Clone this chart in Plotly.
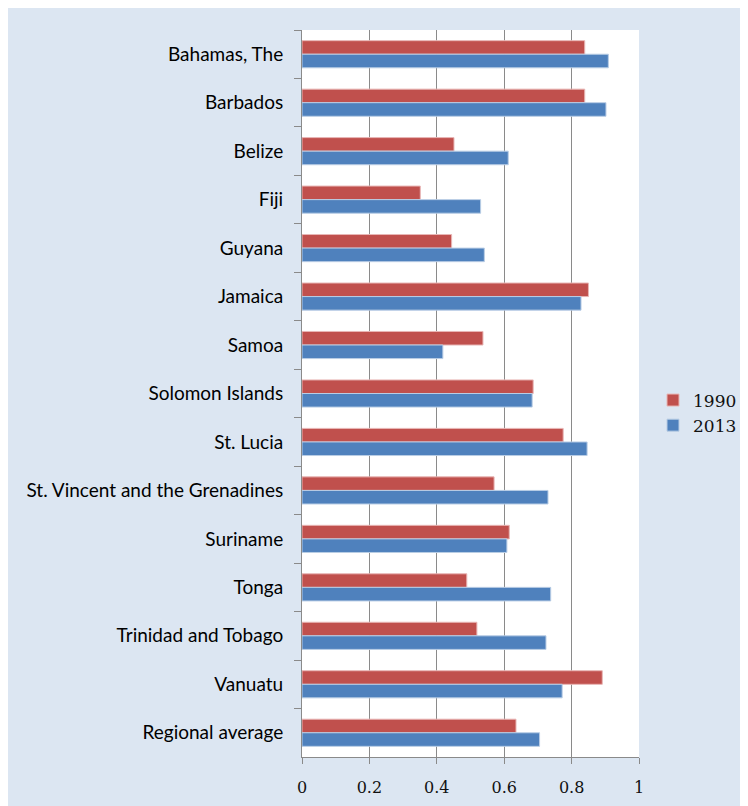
import plotly.graph_objects as go

categories = ["Bahamas, The", "Barbados", "Belize", "Fiji", "Guyana", "Jamaica", "Samoa",
              "Solomon Islands", "St. Lucia", "St. Vincent and the Grenadines", "Suriname",
              "Tonga", "Trinidad and Tobago", "Vanuatu", "Regional average"]
values_1990 = [0.839, 0.839, 0.451, 0.351, 0.444, 0.850, 0.537, 0.686, 0.775, 0.570,
               0.615, 0.489, 0.519, 0.891, 0.635]
values_2013 = [0.909, 0.902, 0.612, 0.530, 0.541, 0.828, 0.418, 0.683, 0.846, 0.730,
               0.608, 0.738, 0.724, 0.772, 0.705]
x_ticks = [0, 0.2, 0.4, 0.6, 0.8, 1]
x_tick_labels = ["0", "0.2", "0.4", "0.6", "0.8", "1"]

RED = "#c0504d"
BLUE = "#4f81bd"
BG = "#dce6f2"

# page is offset by the 8px body margin
OFF = 8
W, H = 748 - OFF, 806 - OFF
L, R, T, B = 302 - OFF, 639 - OFF, 30 - OFF, 757 - OFF
pw, ph = R - L, B - T

fig = go.Figure()
fig.add_trace(go.Bar(y=categories, x=values_1990, name="1990", orientation="h",
                     legendgroup="a",
                     marker=dict(color=RED, line=dict(color="#e8b6b5", width=1))))
fig.add_trace(go.Bar(y=categories, x=values_2013, name="2013", orientation="h",
                     legendgroup="b",
                     marker=dict(color=BLUE, line=dict(color="#b9cde5", width=1))))

fig.update_layout(
    width=W, height=H,
    margin=dict(l=L, r=W - R, t=T, b=H - B, pad=0, autoexpand=False),
    paper_bgcolor=BG,
    plot_bgcolor="white",
    barmode="group",
    bargap=0.44,
    bargroupgap=0,
    showlegend=True,
    legend=dict(xref="container", yref="container",
                x=(653 - OFF) / W, y=1 - (413 - OFF) / H, xanchor="left", yanchor="middle",
                bgcolor="rgba(0,0,0,0)", traceorder="normal", tracegroupgap=22,
                font=dict(family="DejaVu Serif", size=17, color="#111")),
    xaxis=dict(range=[0, 1], tickvals=x_ticks, ticktext=x_tick_labels,
               showgrid=True, gridcolor="#8a8a8a", gridwidth=1,
               showline=True, linecolor="#8a8a8a", linewidth=1,
               ticks="outside", ticklen=6, tickcolor="#8a8a8a", ticklabelstandoff=10,
               tickfont=dict(family="DejaVu Serif", size=16, color="#111"),
               zeroline=False, automargin=False),
    yaxis=dict(categoryorder="array", categoryarray=categories, autorange="reversed",
               showline=True, linecolor="#8a8a8a", linewidth=1,
               ticks="outside", ticklen=7, tickcolor="#8a8a8a", tickson="boundaries",
               showgrid=False, ticklabelstandoff=14, automargin=False,
               tickfont=dict(family="Lato", size=19, color="#000")),
)

fig.write_html("out.html")
